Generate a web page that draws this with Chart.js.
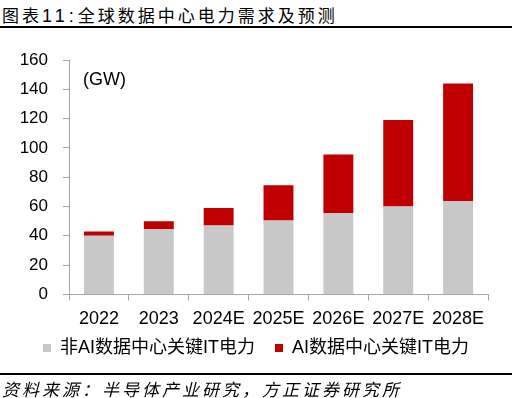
<!DOCTYPE html>
<html>
<head>
<meta charset="utf-8">
<script src="https://cdn.jsdelivr.net/npm/chart.js@4"></script>
<style>
  body { margin: 0; background: #fff; }
  .wrap { position: relative; width: 512px; height: 398px; overflow: hidden; font-family: "Liberation Sans", "Noto Sans CJK SC", sans-serif; }
  .title { position: absolute; left: 2px; top: 2px; font-size: 17px; letter-spacing: 3px; color: #000; white-space: nowrap; }
  .title .num { font-size: 18px; letter-spacing: 4px; }
  .rule { position: absolute; left: 0; width: 512px; height: 2px; background: #000; }
  .source { position: absolute; left: 2px; top: 376px; font-size: 17px; letter-spacing: 3px; font-style: italic; color: #000; white-space: nowrap; }
  .unit { position: absolute; left: 83px; top: 69px; font-size: 18px; color: #000; }
  canvas { position: absolute; left: 0; top: 0; }
</style>
</head>
<body>
<div class="wrap">
  <div class="title">图表<span class="num">11:</span>全球数据中心电力需求及预测</div>
  <div class="rule" style="top:26px"></div>
  <canvas id="myChart" width="512" height="398"></canvas>
  <div class="unit">(GW)</div>
  <div class="rule" style="top:373px"></div>
  <div class="source">资料来源：半导体产业研究，方正证券研究所</div>
</div>
<script>
const years = ['2022', '2023', '2024E', '2025E', '2026E', '2027E', '2028E'];
const nonAI = [40, 44.5, 47, 50.5, 55.5, 60, 63.5];
const ai = [3, 5.5, 12, 24, 40, 59, 80.5];
const yTicks = { min: 0, max: 160, step: 20 };

const fam = '"Liberation Sans", "Noto Sans CJK SC", sans-serif';
const axisGray = '#a6a6a6';
const legendPad = 20;
const legendMidY = 348;

// put the legend where the reference has it: centered on the page, fixed row
const legendPlace = {
  id: 'legendPlace',
  afterLayout(chart) {
    const lg = chart.legend;
    lg.left = 0;
    lg.right = chart.width;
    lg.width = chart.width;
    lg.top = legendMidY - legendPad - 9;
    lg.bottom = lg.top + lg.height;
  }
};

var ctx = document.getElementById('myChart');
new Chart(ctx, {
  type: 'bar',
  data: {
    labels: years,
    datasets: [{
      label: '非AI数据中心关键IT电力',
      data: nonAI,
      backgroundColor: '#c8c8c8',
      borderWidth: 0
    }, {
      label: 'AI数据中心关键IT电力',
      data: ai,
      backgroundColor: '#c00000',
      borderWidth: 0
    }]
  },
  options: {
    responsive: false,
    animation: false,
    categoryPercentage: 1,
    barPercentage: 0.5,
    layout: { padding: { top: 60, right: 24, left: 0, bottom: 12 } },
    plugins: {
      tooltip: { enabled: false },
      legend: {
        position: 'bottom',
        labels: {
          boxWidth: 8,
          boxHeight: 8,
          padding: legendPad,
          color: '#000',
          font: { family: fam, size: 18 }
        }
      }
    },
    scales: {
      x: {
        stacked: true,
        grid: { drawOnChartArea: false, drawTicks: true, tickLength: 6, color: axisGray },
        border: { color: axisGray, width: 1 },
        ticks: { color: '#000', padding: 8, font: { family: fam, size: 18 } }
      },
      y: {
        stacked: true,
        min: yTicks.min,
        max: yTicks.max,
        afterFit(scale) { scale.width = 69; },
        grid: { drawOnChartArea: false, drawTicks: true, tickLength: 6, color: axisGray },
        border: { color: axisGray, width: 1 },
        ticks: { stepSize: yTicks.step, color: '#000', padding: 15, font: { family: fam, size: 17 } }
      }
    }
  },
  plugins: [legendPlace]
});
</script>
</body>
</html>
